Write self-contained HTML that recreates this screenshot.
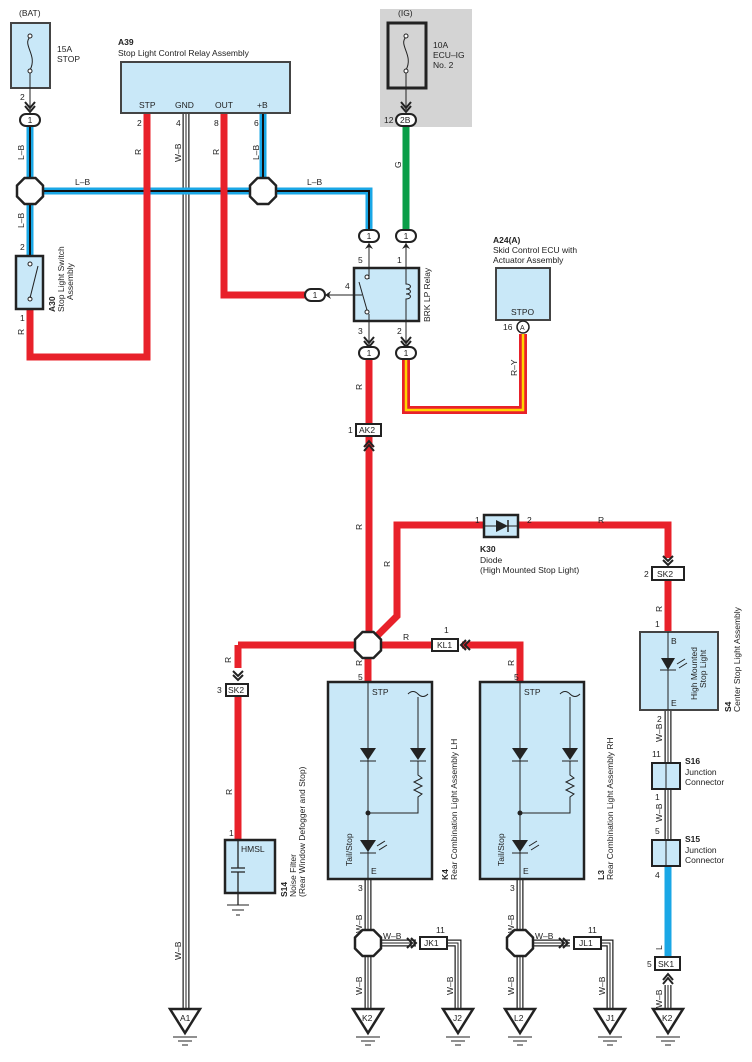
<!DOCTYPE html>
<html><head><meta charset="utf-8"><style>
body{margin:0;background:#fff}
svg{display:block;font-family:"Liberation Sans",sans-serif}
text{font-size:8.5px;fill:#222}
.b{font-weight:bold}
</style></head><body>
<svg width="752" height="1062" viewBox="0 0 752 1062" xmlns="http://www.w3.org/2000/svg">
<defs>
<polygon id="oct" points="-5.5,-13 5.5,-13 13,-5.5 13,5.5 5.5,13 -5.5,13 -13,5.5 -13,-5.5" fill="#fff" stroke="#222" stroke-width="2.5"/>
<g id="gnd"><polygon points="-15,0 15,0 0,24" fill="#fff" stroke="#222" stroke-width="2.5"/><line x1="-12" y1="28" x2="12" y2="28" stroke="#222"/><line x1="-7" y1="32" x2="7" y2="32" stroke="#222"/><line x1="-3" y1="36" x2="3" y2="36" stroke="#222"/></g>
<g id="ov"><rect x="-10" y="-6" width="20" height="12" rx="6" fill="#fff" stroke="#222" stroke-width="2"/><text x="0" y="3" text-anchor="middle">1</text></g>
<path id="chev" d="M-5,-4 L0,2 L5,-4 M-5,-8 L0,-2 L5,-8" fill="none" stroke="#222" stroke-width="2"/>
</defs>

<rect x="380" y="9" width="92" height="118" fill="#d4d4d4"/>

<g fill="none" stroke-linejoin="miter">
<g stroke="#222" stroke-width="7"><path d="M186,113 V1010"/><path d="M368,880 V1010 M368,943 H416 M447,943 H458 V1010 M520,880 V1010 M520,943 H570 M601,943 H610 V1010 M668,710 V970 M668,985 V1010"/></g>
<g stroke="#fff" stroke-width="4.5"><path d="M186,113 V1010"/><path d="M368,880 V1010 M368,943 H416 M447,943 H458 V1010 M520,880 V1010 M520,943 H570 M601,943 H610 V1010 M668,710 V867 M668,985 V1010"/></g>
<g stroke="#222" stroke-width="1"><path d="M186,113 V1010"/><path d="M368,880 V1010 M368,943 H416 M447,943 H458 V1010 M520,880 V1010 M520,943 H570 M601,943 H610 V1010 M668,710 V867 M668,985 V1010"/></g>
</g>

<g fill="none">
<path d="M30,126 V258 M30,191 H369 V230 M263,113 V191" stroke="#1aa7e6" stroke-width="7"/>
<path d="M30,126 V258 M30,191 H369 V230 M263,113 V191" stroke="#111" stroke-width="2"/>
<path d="M147,113 V357 H30 V309" stroke="#e8212a" stroke-width="7"/>
<path d="M224,113 V295 H305" stroke="#e8212a" stroke-width="7"/>
<path d="M369,360 V645 M238,645 H432 M462,645 H520 V682 M368,645 V682 M238,645 V668 M238,696 V840" stroke="#e8212a" stroke-width="7"/>
<path d="M368,645 L397,616 V525 H484 M518,525 H668 V558 M668,580 V632" stroke="#e8212a" stroke-width="7"/>
<path d="M406,127 V230" stroke="#0a9e48" stroke-width="7"/>
<path d="M406,360 V410 H523 V334" stroke="#e8212a" stroke-width="8"/>
<path d="M406,360 V410 H523 V334" stroke="#ffd500" stroke-width="2.5"/>
<path d="M668,867 V957" stroke="#1aa7e6" stroke-width="7"/>
</g>

<text x="19" y="16">(BAT)</text>
<rect x="11" y="23" width="39" height="65" fill="#c9e8f8" stroke="#444" stroke-width="2"/>
<path d="M30,37 C22,45 38,55 30,70" fill="none" stroke="#222"/><circle cx="30" cy="36" r="2" fill="#fff" stroke="#222"/><circle cx="30" cy="71" r="2" fill="#fff" stroke="#222"/>
<line x1="30" y1="73" x2="30" y2="110" stroke="#222"/>
<text x="57" y="52">15A</text><text x="57" y="62">STOP</text>
<text x="20" y="100">2</text><use href="#chev" x="30" y="110"/>
<use href="#ov" x="30" y="120"/>
<text transform="translate(24,160) rotate(-90)">L–B</text>
<text transform="translate(24,228) rotate(-90)">L–B</text>
<text x="75" y="185">L–B</text><text x="307" y="185">L–B</text>
<use href="#oct" x="30" y="191"/><use href="#oct" x="263" y="191"/>

<text x="20" y="250">2</text>
<rect x="16" y="256" width="27" height="53" fill="#c9e8f8" stroke="#222" stroke-width="2.5"/>
<circle cx="30" cy="264" r="2" fill="#fff" stroke="#222"/><circle cx="30" cy="299" r="2" fill="#fff" stroke="#222"/><line x1="30" y1="298" x2="38" y2="266" stroke="#222"/>
<text x="20" y="321">1</text>
<text transform="translate(24,335) rotate(-90)">R</text>
<text class="b" transform="translate(55,312) rotate(-90)">A30</text>
<text transform="translate(64,312) rotate(-90)">Stop Light Switch</text>
<text transform="translate(73,300) rotate(-90)">Assembly</text>

<text class="b" x="118" y="45">A39</text>
<text x="118" y="56">Stop Light Control Relay Assembly</text>
<rect x="121" y="62" width="169" height="51" fill="#c9e8f8" stroke="#444" stroke-width="2"/>
<text x="139" y="108">STP</text><text x="175" y="108">GND</text><text x="215" y="108">OUT</text><text x="257" y="108">+B</text>
<text x="137" y="126">2</text><text x="176" y="126">4</text><text x="214" y="126">8</text><text x="254" y="126">6</text>
<text transform="translate(141,155) rotate(-90)">R</text>
<text transform="translate(181,162) rotate(-90)">W–B</text>
<text transform="translate(219,155) rotate(-90)">R</text>
<text transform="translate(259,160) rotate(-90)">L–B</text>

<text x="398" y="16">(IG)</text>
<rect x="388" y="23" width="38" height="65" fill="#d4d4d4" stroke="#222" stroke-width="3"/>
<path d="M406,37 C398,45 414,55 406,70" fill="none" stroke="#222"/><circle cx="406" cy="36" r="2" fill="#fff" stroke="#222"/><circle cx="406" cy="71" r="2" fill="#fff" stroke="#222"/>
<line x1="406" y1="73" x2="406" y2="110" stroke="#222"/>
<text x="433" y="48">10A</text><text x="433" y="58">ECU–IG</text><text x="433" y="68">No. 2</text>
<use href="#chev" x="406" y="110"/>
<rect x="396" y="114" width="20" height="12" rx="6" fill="#fff" stroke="#222" stroke-width="2"/><text x="400" y="123">2B</text>
<text x="384" y="123">12</text>
<text transform="translate(401,168) rotate(-90)">G</text>

<use href="#ov" x="369" y="236"/><use href="#ov" x="406" y="236"/>
<line x1="369" y1="242" x2="369" y2="268" stroke="#222"/><line x1="406" y1="242" x2="406" y2="268" stroke="#222"/>
<path d="M369,243 l-4,6 l4,-2 l4,2z M406,243 l-4,6 l4,-2 l4,2z" fill="#222"/>
<text x="358" y="263">5</text><text x="397" y="263">1</text>
<rect x="354" y="268" width="65" height="53" fill="#c9e8f8" stroke="#222" stroke-width="2.5"/>
<circle cx="367" cy="277" r="2" fill="#fff" stroke="#222"/><circle cx="367" cy="312" r="2" fill="#fff" stroke="#222"/><line x1="359" y1="282" x2="367" y2="310" stroke="#222"/>
<line x1="369" y1="279" x2="369" y2="268" stroke="#222"/><line x1="369" y1="314" x2="369" y2="348" stroke="#222"/>
<path d="M406,268 V284 c6,0 6,5 0,5 c6,0 6,5 0,5 c6,0 6,5 0,5 V348" fill="none" stroke="#222"/>
<line x1="318" y1="295" x2="362" y2="295" stroke="#222"/>
<use href="#ov" x="315" y="295"/><path d="M325,295 l6,-4 l-2,4 l2,4z" fill="#222"/>
<text x="345" y="289">4</text>
<text x="358" y="334">3</text><text x="397" y="334">2</text>
<use href="#chev" x="369" y="345"/><use href="#chev" x="406" y="345"/>
<use href="#ov" x="369" y="353"/><use href="#ov" x="406" y="353"/>
<text transform="translate(430,322) rotate(-90)">BRK LP Relay</text>
<text transform="translate(362,390) rotate(-90)">R</text>
<text transform="translate(517,376) rotate(-90)">R–Y</text>

<text class="b" x="493" y="243">A24(A)</text>
<text x="493" y="253">Skid Control ECU with</text>
<text x="493" y="263">Actuator Assembly</text>
<rect x="496" y="268" width="54" height="52" fill="#c9e8f8" stroke="#444" stroke-width="2"/>
<text x="511" y="315">STPO</text>
<circle cx="523" cy="327" r="6" fill="#fff" stroke="#222" stroke-width="1.5"/><text x="520" y="330" style="font-size:7px">A</text>
<text x="503" y="330">16</text>

<rect x="356" y="424" width="25" height="12" fill="#fff" stroke="#222" stroke-width="2"/><text x="359" y="433">AK2</text>
<text x="348" y="433">1</text>
<path d="M364,451 l5,-6 l5,6 M364,447 l5,-6 l5,6" fill="none" stroke="#222" stroke-width="2"/>
<text transform="translate(362,530) rotate(-90)">R</text>
<text transform="translate(390,567) rotate(-90)">R</text>

<rect x="484" y="515" width="34" height="22" fill="#c9e8f8" stroke="#222" stroke-width="2.5"/>
<line x1="485" y1="526" x2="517" y2="526" stroke="#222"/><path d="M496,520 L508,526 L496,532z" fill="#222"/><line x1="508" y1="520" x2="508" y2="532" stroke="#222" stroke-width="1.5"/>
<text x="475" y="523">1</text><text x="527" y="523">2</text><text x="598" y="523">R</text>
<text class="b" x="480" y="552">K30</text><text x="480" y="563">Diode</text><text x="480" y="573">(High Mounted Stop Light)</text>
<path d="M663,556 l5,5 l5,-5 M663,560 l5,5 l5,-5" fill="none" stroke="#222" stroke-width="2"/>
<rect x="652" y="567" width="32" height="13" fill="#fff" stroke="#222" stroke-width="2"/><text x="657" y="577">SK2</text>
<text x="644" y="577">2</text>
<text transform="translate(662,612) rotate(-90)">R</text>
<text x="655" y="627">1</text>

<rect x="640" y="632" width="78" height="78" fill="#c9e8f8" stroke="#444" stroke-width="2"/>
<line x1="668" y1="632" x2="668" y2="710" stroke="#222"/>
<path d="M661,658 L675,658 L668,670z" fill="#222"/><line x1="660" y1="670" x2="676" y2="670" stroke="#222"/>
<path d="M677,664 l8,-5 M679,668 l8,-5" stroke="#222"/>
<text x="671" y="644">B</text><text x="671" y="706">E</text>
<text transform="translate(697,700) rotate(-90)">High Mounted</text>
<text transform="translate(706,688) rotate(-90)">Stop Light</text>
<text class="b" transform="translate(731,712) rotate(-90)">S4</text>
<text transform="translate(740,712) rotate(-90)">Center Stop Light Assembly</text>
<text x="657" y="722">2</text><text transform="translate(662,742) rotate(-90)">W–B</text>
<text x="652" y="757">11</text>
<rect x="652" y="763" width="28" height="26" fill="#c9e8f8" stroke="#222" stroke-width="2"/><line x1="666" y1="763" x2="666" y2="789" stroke="#222"/>
<text class="b" x="685" y="764">S16</text><text x="685" y="775">Junction</text><text x="685" y="785">Connector</text>
<text x="655" y="800">1</text><text transform="translate(662,822) rotate(-90)">W–B</text>
<text x="655" y="834">5</text>
<rect x="652" y="840" width="28" height="26" fill="#c9e8f8" stroke="#222" stroke-width="2"/><line x1="666" y1="840" x2="666" y2="866" stroke="#222"/>
<text class="b" x="685" y="842">S15</text><text x="685" y="853">Junction</text><text x="685" y="863">Connector</text>
<text x="655" y="878">4</text>
<text transform="translate(662,950) rotate(-90)">L</text>
<rect x="655" y="957" width="25" height="13" fill="#fff" stroke="#222" stroke-width="2"/><text x="658" y="967">SK1</text>
<text x="647" y="967">5</text>
<path d="M663,980 l5,-6 l5,6 M663,984 l5,-6 l5,6" fill="none" stroke="#222" stroke-width="2"/>
<text transform="translate(662,1008) rotate(-90)">W–B</text>

<use href="#oct" x="368" y="645"/>
<text x="403" y="640">R</text>
<rect x="432" y="639" width="26" height="12" fill="#fff" stroke="#222" stroke-width="2"/><text x="437" y="648">KL1</text>
<text x="444" y="633">1</text>
<path d="M466,640 l-5,5 l5,5 M470,640 l-5,5 l5,5" fill="none" stroke="#222" stroke-width="2"/>
<text transform="translate(231,663) rotate(-90)">R</text>
<text transform="translate(362,666) rotate(-90)">R</text>
<text transform="translate(514,666) rotate(-90)">R</text>
<text x="358" y="680">5</text><text x="514" y="680">5</text>

<path d="M233,671 l5,5 l5,-5 M233,675 l5,5 l5,-5" fill="none" stroke="#222" stroke-width="2"/>
<rect x="226" y="684" width="22" height="12" fill="#fff" stroke="#222" stroke-width="2"/><text x="228" y="693">SK2</text>
<text x="217" y="693">3</text>
<text transform="translate(232,795) rotate(-90)">R</text>
<text x="229" y="836">1</text>
<rect x="225" y="840" width="50" height="53" fill="#c9e8f8" stroke="#222" stroke-width="2.5"/>
<text x="241" y="852">HMSL</text>
<path d="M238,840 V868 M231,868 H245 M231,872 H245 M238,872 V905" fill="none" stroke="#222" stroke-width="1.3"/>
<path d="M227,905 H249 M232,910 H244 M236,915 H240" stroke="#222"/>
<text class="b" transform="translate(287,897) rotate(-90)">S14</text>
<text transform="translate(296,897) rotate(-90)">Noise Filter</text>
<text transform="translate(305,897) rotate(-90)">(Rear Window Defogger and Stop)</text>

<g id="lamp">
<rect x="328" y="682" width="104" height="197" fill="#c9e8f8" stroke="#222" stroke-width="2.5"/>
<text x="372" y="695">STP</text>
<path d="M408,694 q5,-5 10,0 t10,0" fill="none" stroke="#222"/>
<line x1="368" y1="682" x2="368" y2="880" stroke="#222"/>
<path d="M360,748 H376 L368,760z" fill="#222"/><line x1="360" y1="761" x2="376" y2="761" stroke="#222"/>
<line x1="418" y1="697" x2="418" y2="748" stroke="#222"/>
<path d="M410,748 H426 L418,760z" fill="#222"/><line x1="410" y1="761" x2="426" y2="761" stroke="#222"/>
<path d="M418,761 V775 l4,3 l-8,4 l8,4 l-8,4 l8,4 l-4,3 V813 H368" fill="none" stroke="#222"/>
<circle cx="368" cy="813" r="2.5" fill="#222"/>
<path d="M360,840 H376 L368,852z" fill="#222"/><line x1="360" y1="853" x2="376" y2="853" stroke="#222"/>
<path d="M377,846 l8,-5 M379,850 l8,-5" stroke="#222"/>
<text transform="translate(352,866) rotate(-90)">Tail/Stop</text>
<text x="371" y="874">E</text>
<text x="358" y="891">3</text>
<text transform="translate(362,933) rotate(-90)">W–B</text>
<text transform="translate(362,995) rotate(-90)">W–B</text>
<use href="#oct" x="368" y="943"/>
<text x="383" y="939">W–B</text>
<path d="M407,938 l5,5 l-5,5 M411,938 l5,5 l-5,5" fill="none" stroke="#222" stroke-width="2"/>
<text x="436" y="933">11</text>
<text transform="translate(453,995) rotate(-90)">W–B</text>
</g>
<text class="b" transform="translate(448,880) rotate(-90)">K4</text>
<text transform="translate(457,880) rotate(-90)">Rear Combination Light Assembly LH</text>
<rect x="420" y="937" width="27" height="12" fill="#fff" stroke="#222" stroke-width="2"/><text x="424" y="946">JK1</text>
<use href="#lamp" x="152"/>
<text class="b" transform="translate(604,880) rotate(-90)">L3</text>
<text transform="translate(613,880) rotate(-90)">Rear Combination Light Assembly RH</text>
<rect x="574" y="937" width="27" height="12" fill="#fff" stroke="#222" stroke-width="2"/><text x="579" y="946">JL1</text>
<text transform="translate(181,960) rotate(-90)">W–B</text>

<use href="#gnd" x="185" y="1009"/><text x="180" y="1021">A1</text>
<use href="#gnd" x="368" y="1009"/><text x="362" y="1021">K2</text>
<use href="#gnd" x="458" y="1009"/><text x="453" y="1021">J2</text>
<use href="#gnd" x="520" y="1009"/><text x="514" y="1021">L2</text>
<use href="#gnd" x="610" y="1009"/><text x="606" y="1021">J1</text>
<use href="#gnd" x="668" y="1009"/><text x="662" y="1021">K2</text>
</svg>
</body></html>
